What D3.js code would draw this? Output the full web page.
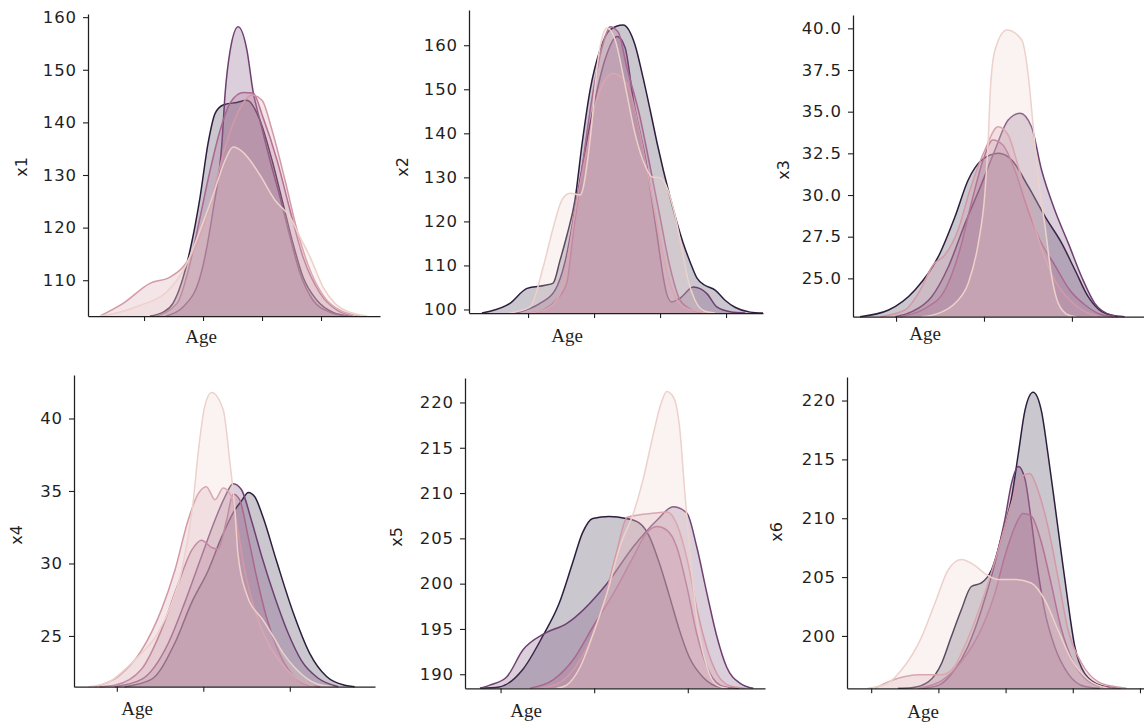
<!DOCTYPE html>
<html>
<head>
<meta charset="utf-8">
<script src="https://cdn.jsdelivr.net/npm/d3@7"></script>
<style>
  body { margin: 0; background: #fff; }
  svg { display: block; }
  .tick text { font-family: "DejaVu Sans", sans-serif; font-size: 16.5px; fill: #1f1f1f; letter-spacing: 0.9px; }
  .ylab { font-family: "DejaVu Sans", sans-serif; font-size: 16px; fill: #1f1f1f; }
  .xlab { font-family: "Liberation Serif", "Times New Roman", serif; font-size: 19px; fill: #1f1f1f; }
</style>
</head>
<body>
<svg id="chart" width="1144" height="728"></svg>
<script>
// hue levels, lightest to darkest (seaborn cubehelix)
const palette = ["#edd1cb", "#d499a7", "#aa678f", "#6e4071", "#2d1e3e"];
const xLabel = "Age";
const yLabels = ["x1", "x2", "x3", "x4", "x5", "x6"];

const xDomains = [[1, 100], [2.1, 91.2], [10.2, 76.4], [10.1, 79.7], [12.4, 76.5], [6.4, 50.6]];
const xTicks = [[20, 40, 60, 80], [20, 40, 60, 80], [20, 40, 60], [20, 40, 60], [20, 40, 60], [10, 20, 30, 40, 50]];
const yDomains = [[103.2, 160.6], [99.2, 168.0], [22.7, 40.8], [21.5, 43.0], [188.45, 222.7], [195.55, 222.0]];
const yTicks = [
  [110, 120, 130, 140, 150, 160],
  [100, 110, 120, 130, 140, 150, 160],
  [25, 27.5, 30, 32.5, 35, 37.5, 40],
  [25, 30, 35, 40],
  [190, 195, 200, 205, 210, 215, 220],
  [200, 205, 210, 215, 220]
];
const yFormats = ["d", "d", ".1f", "d", "d", "d"];

// density outlines per hue level, [age, value]
const x1Curves = [
  [[5.1,103.2],[8.5,103.5],[18.6,105.2],[27.5,107.7],[33.9,112.5],[39.0,119.5],[43.4,126.2],[47.5,132.8],[50.2,135.3],[53.6,134.3],[59.3,130.0],[64.4,125.2],[69.5,122.0],[72.9,118.2],[76.3,114.4],[80.7,108.7],[84.7,105.6],[89.8,103.9],[95.6,103.2]],
  [[5.1,103.2],[12.9,105.6],[22.0,109.4],[28.8,110.6],[33.2,112.5],[38.0,117.0],[42.4,124.3],[47.5,135.3],[51.9,142.0],[56.6,145.2],[60.0,144.2],[63.4,138.5],[67.8,129.0],[71.9,119.5],[76.3,111.9],[81.4,106.6],[86.4,104.3],[93.2,103.2]],
  [[24.0,103.2],[31.2,105.6],[35.6,113.2],[39.0,122.0],[42.4,130.9],[45.8,138.5],[49.2,143.7],[53.6,145.7],[56.9,145.6],[60.3,141.0],[65.1,132.8],[69.5,123.3],[73.9,114.4],[79.7,107.5],[85.4,104.3],[90.8,103.2]],
  [[27.5,103.2],[33.2,104.9],[39.0,110.6],[43.4,123.3],[46.4,136.0],[47.5,145.6],[49.2,153.7],[51.9,158.2],[54.9,153.7],[56.9,146.1],[59.3,140.4],[62.7,132.8],[66.1,125.8],[69.5,118.2],[72.9,111.3],[77.3,106.2],[83.1,103.9],[88.8,103.2]],
  [[22.0,103.2],[26.4,103.9],[29.8,105.6],[35.6,115.7],[39.0,125.8],[41.7,136.0],[44.1,141.7],[46.8,143.3],[51.5,143.8],[54.9,144.2],[59.3,140.4],[63.4,132.8],[67.1,124.6],[70.5,117.0],[73.9,110.6],[78.6,106.2],[84.1,103.9],[89.8,103.2]]
];

const x2Curves = [
  [[14.5,99.2],[20.6,100.6],[24.6,109.7],[27.7,118.8],[30.2,124.8],[32.7,126.4],[35.8,126.0],[38.8,138.5],[41.2,156.7],[43.9,163.9],[46.4,161.2],[49.4,151.0],[52.4,140.0],[55.5,132.6],[57.6,130.1],[60.0,129.9],[62.4,127.1],[64.5,121.5],[66.7,113.5],[68.5,106.7],[70.6,102.1],[73.6,99.6],[76.7,99.2]],
  [[20.6,99.2],[25.7,100.2],[29.7,103.6],[32.2,112.7],[34.8,124.8],[37.8,136.2],[40.8,147.6],[45.8,153.6],[49.9,151.4],[53.9,140.0],[57.0,127.9],[60.0,115.8],[63.0,105.9],[67.1,100.6],[72.1,99.5],[76.0,99.2]],
  [[20.6,99.2],[23.6,99.6],[28.2,101.9],[31.7,105.9],[33.7,117.3],[35.8,128.7],[37.8,140.0],[40.3,152.0],[43.0,161.0],[44.8,164.2],[47.3,163.0],[49.9,155.1],[53.9,143.8],[57.0,132.4],[60.0,121.0],[63.0,109.7],[66.1,102.1],[70.0,99.8],[73.6,99.2]],
  [[16.1,99.2],[23.6,101.4],[28.2,104.4],[31.2,110.8],[34.2,122.6],[37.3,136.2],[40.3,147.6],[43.3,156.7],[47.0,162.0],[49.4,159.5],[51.9,147.6],[56.0,132.4],[59.0,117.3],[62.0,103.6],[63.5,101.7],[66.1,102.6],[70.1,105.1],[74.2,103.6],[77.2,100.6],[81.2,99.5],[85.8,99.2]],
  [[6.0,99.2],[8.5,99.6],[14.5,101.4],[19.7,104.8],[25.2,105.5],[27.6,106.0],[29.7,111.2],[31.8,116.9],[34.2,124.8],[36.4,137.8],[38.8,149.8],[41.8,158.9],[44.8,163.5],[48.8,164.6],[52.4,160.1],[54.8,152.8],[57.0,145.3],[59.1,137.8],[63.0,125.6],[67.0,115.1],[69.1,110.8],[71.2,107.1],[73.6,105.5],[76.7,104.4],[79.7,102.1],[82.7,100.5],[87.3,99.4],[91.2,99.2]]
];

const x3Curves = [
  [[25.8,22.7],[29.6,22.9],[33.4,23.5],[36.4,24.7],[38.7,27.1],[40.2,30.1],[41.0,33.5],[41.4,36.1],[42.5,38.7],[45.2,39.9],[48.6,39.3],[50.1,37.1],[51.2,34.1],[52.3,31.1],[53.9,28.1],[55.4,25.1],[56.9,23.5],[59.2,22.8],[61.0,22.7]],
  [[16.4,22.7],[22.0,23.1],[25.5,24.3],[28.4,25.8],[31.1,26.4],[34.1,27.9],[36.8,30.3],[40.2,32.7],[43.2,34.1],[45.5,33.6],[47.7,31.8],[50.5,29.1],[53.2,26.7],[56.1,24.9],[59.5,23.7],[63.0,23.0],[66.4,22.7]],
  [[20.9,22.7],[26.6,23.2],[31.1,24.3],[34.5,26.7],[37.3,29.7],[39.8,32.1],[42.0,33.3],[44.3,33.0],[47.0,31.5],[50.0,29.1],[52.7,27.3],[56.1,25.8],[59.5,24.3],[63.0,23.4],[66.4,22.85],[69.8,22.7]],
  [[19.8,22.7],[23.6,23.0],[28.1,23.9],[31.9,25.7],[35.7,28.3],[39.5,30.7],[42.5,32.7],[45.5,34.5],[48.2,34.9],[50.8,34.1],[53.1,31.5],[56.1,29.1],[59.2,27.1],[62.2,25.1],[65.2,23.5],[69.0,22.8],[72.0,22.7]],
  [[11.8,22.7],[18.3,23.1],[24.3,24.3],[29.6,26.3],[33.4,28.7],[36.4,30.9],[39.5,32.1],[43.3,32.5],[46.3,32.1],[50.1,30.5],[53.9,28.7],[57.7,27.1],[60.7,25.5],[63.7,23.9],[66.8,23.0],[70.5,22.7]]
];

const x4Curves = [
  [[13.4,21.5],[18.0,21.8],[21.9,22.7],[25.7,23.8],[29.5,25.2],[32.6,27.2],[35.0,29.5],[37.6,34.1],[38.8,37.6],[40.3,40.8],[41.9,41.8],[44.6,40.6],[46.1,37.1],[47.3,33.7],[48.0,30.7],[50.0,27.9],[53.8,26.1],[56.1,25.0],[58.5,23.8],[61.5,22.7],[66.2,21.7],[70.0,21.5]],
  [[14.9,21.5],[20.3,22.2],[25.7,24.0],[30.3,26.8],[33.4,29.5],[36.5,33.0],[38.8,34.8],[40.7,35.3],[42.7,34.4],[44.6,35.2],[46.5,34.6],[48.0,32.3],[49.6,29.5],[51.9,26.8],[55.0,24.5],[58.1,23.1],[61.9,22.0],[65.8,21.5]],
  [[16.0,21.5],[19.5,21.6],[25.7,22.7],[30.3,25.4],[34.2,28.6],[37.3,30.9],[39.6,31.6],[41.9,31.1],[43.4,31.0],[45.4,33.0],[46.9,34.8],[48.4,34.4],[50.4,31.8],[52.3,29.1],[54.6,26.3],[57.3,24.0],[60.4,22.4],[64.2,21.6],[67.0,21.5]],
  [[19.5,21.5],[25.7,22.0],[31.9,24.5],[35.7,27.3],[39.6,30.5],[42.7,33.0],[45.0,34.6],[46.9,35.5],[48.8,35.1],[51.1,33.0],[53.5,30.5],[56.5,27.7],[59.6,25.2],[62.7,23.3],[66.5,22.1],[71.2,21.5]],
  [[21.8,21.5],[28.0,22.0],[33.4,24.5],[37.3,27.3],[41.1,29.5],[44.2,31.8],[47.3,33.7],[48.8,34.3],[50.4,34.9],[51.9,34.6],[53.8,33.2],[56.9,30.2],[60.8,26.6],[64.6,23.8],[68.5,22.2],[72.7,21.6],[75.0,21.5]]
];

const x5Curves = [
  [[32.0,188.45],[34.1,188.8],[37.0,190.8],[39.8,194.5],[42.7,198.9],[45.5,204.1],[48.6,208.1],[50.4,211.4],[52.5,216.2],[54.3,219.9],[55.5,221.2],[57.0,220.5],[58.3,217.0],[59.3,210.5],[60.6,202.6],[62.2,195.3],[64.1,190.8],[66.2,188.8],[68.5,188.45]],
  [[28.4,188.45],[32.7,189.1],[37.0,191.6],[40.2,194.9],[42.7,199.3],[44.9,203.7],[47.0,207.3],[49.8,207.6],[53.0,207.8],[55.6,207.9],[57.7,206.5],[59.9,202.6],[62.0,197.1],[64.2,192.7],[66.3,190.0],[69.1,188.7],[72.3,188.45]],
  [[26.3,188.45],[31.3,189.4],[35.5,191.6],[39.8,195.3],[44.1,198.9],[48.4,203.0],[51.2,205.6],[53.4,206.3],[55.5,205.9],[57.6,204.1],[59.8,199.7],[61.9,194.5],[64.1,190.8],[66.9,188.8],[69.8,188.45]],
  [[15.6,188.45],[17.7,188.8],[21.3,189.7],[24.8,192.7],[29.4,194.5],[34.1,195.6],[42.7,200.0],[48.4,204.1],[53.4,207.0],[56.9,208.5],[59.8,207.8],[61.9,204.1],[64.1,198.9],[66.2,194.2],[68.3,190.8],[71.2,189.0],[74.0,188.45]],
  [[15.6,188.45],[19.7,188.6],[24.7,190.5],[29.0,194.2],[32.5,197.8],[35.4,202.3],[37.5,205.6],[39.7,207.2],[43.2,207.4],[46.8,207.2],[49.6,206.7],[51.8,205.2],[53.9,202.3],[56.1,198.6],[58.2,194.9],[60.3,191.9],[63.2,189.7],[66.8,188.6],[71.0,188.45]]
];

const x6Curves = [
  [[9.5,195.55],[12.5,196.0],[14.5,197.1],[17.5,199.9],[19.5,202.8],[21.45,205.6],[23.4,206.5],[25.4,206.0],[26.9,205.3],[28.9,204.8],[31.4,204.8],[33.8,204.5],[35.8,203.1],[37.8,200.5],[39.8,198.0],[42.3,196.3],[45.2,195.55]],
  [[10.55,195.55],[14.0,196.4],[17.0,196.7],[20.5,196.7],[22.4,197.4],[23.4,198.5],[26.4,202.8],[28.9,207.3],[30.9,211.3],[32.35,213.5],[33.6,213.8],[34.8,212.4],[36.3,209.3],[37.8,205.0],[39.3,200.5],[41.3,197.7],[43.8,196.1],[46.2,195.7],[48.0,195.55]],
  [[17.0,195.55],[20.5,196.2],[23.4,197.8],[26.4,200.6],[28.4,203.6],[29.9,206.8],[31.4,209.3],[32.6,210.4],[33.8,210.2],[35.3,208.0],[36.8,204.4],[38.3,200.6],[39.8,198.1],[41.8,196.4],[44.2,195.7],[47.2,195.55]],
  [[17.5,195.55],[20.0,195.8],[22.4,197.1],[24.4,199.1],[26.4,202.2],[28.4,206.2],[29.9,209.9],[30.9,213.0],[31.9,214.4],[32.9,213.3],[33.8,209.9],[34.8,205.6],[35.8,202.2],[37.3,199.1],[39.3,196.8],[41.8,195.7],[44.0,195.55]],
  [[14.0,195.55],[16.0,195.6],[18.5,196.1],[20.5,197.7],[21.9,199.9],[23.4,202.2],[24.9,204.2],[26.4,204.5],[27.9,205.6],[29.4,208.4],[30.9,211.8],[31.9,215.5],[32.9,219.2],[34.1,220.7],[35.3,219.2],[36.3,215.5],[37.3,211.3],[38.3,207.0],[39.3,202.8],[40.3,199.1],[41.8,196.8],[44.2,195.8],[47.2,195.55]]
];

const allCurves = [x1Curves, x2Curves, x3Curves, x4Curves, x5Curves, x6Curves];

// pixel boxes of each subplot (left spine x, right end, top, bottom spine y)
const boxes = [
  { left: 88, right: 380, top: 14, bottom: 316 },
  { left: 469, right: 763, top: 10, bottom: 313 },
  { left: 853, right: 1144, top: 15, bottom: 316.7 },
  { left: 74, right: 375, top: 375, bottom: 686.7 },
  { left: 465, right: 765, top: 378, bottom: 688.3 },
  { left: 847, right: 1144, top: 377, bottom: 688.3 }
];
const xLabelPos = [[201, 343], [567, 342], [925, 340], [137, 715], [526, 717], [923, 718]];
const yLabelPos = [[21, 167], [402, 167], [783, 170], [16, 535], [396, 537], [776, 532]];

const svg = d3.select("#chart");

allCurves.forEach(function (curves, i) {
  const b = boxes[i];
  const x = d3.scaleLinear().domain(xDomains[i]).range([b.left, b.right]);
  const y = d3.scaleLinear().domain(yDomains[i]).range([b.bottom, b.top]);
  const g = svg.append("g").attr("class", "panel");

  const area = d3.area()
    .x(d => x(d[0]))
    .y0(y(yDomains[i][0]))
    .y1(d => y(d[1]))
    .curve(d3.curveMonotoneX);
  const line = d3.line()
    .x(d => x(d[0]))
    .y(d => y(d[1]))
    .curve(d3.curveMonotoneX);

  // seaborn draws the last hue level first
  for (let k = curves.length - 1; k >= 0; k--) {
    g.append("path").datum(curves[k])
      .attr("d", area)
      .attr("fill", palette[k])
      .attr("fill-opacity", 0.25);
    g.append("path").datum(curves[k])
      .attr("d", line)
      .attr("fill", "none")
      .attr("stroke", palette[k])
      .attr("stroke-width", 1.5);
  }

  const yAxis = g.append("g")
    .attr("transform", `translate(${b.left},0)`)
    .call(d3.axisLeft(y).tickValues(yTicks[i]).tickFormat(d3.format(yFormats[i]))
      .tickSize(5).tickSizeOuter(0).tickPadding(6));
  const xAxis = g.append("g")
    .attr("transform", `translate(0,${b.bottom})`)
    .call(d3.axisBottom(x).tickValues(xTicks[i]).tickFormat("")
      .tickSize(5).tickSizeOuter(0));
  [yAxis, xAxis].forEach(a => {
    a.attr("font-family", "DejaVu Sans");
    a.select(".domain").attr("stroke", "#1f1f1f").attr("stroke-width", 1.25);
    a.selectAll(".tick line").attr("stroke", "#1f1f1f").attr("stroke-width", 1.1);
  });

  g.append("text")
    .attr("class", "xlab")
    .attr("x", xLabelPos[i][0])
    .attr("y", xLabelPos[i][1])
    .attr("text-anchor", "middle")
    .text(xLabel);

  g.append("text")
    .attr("class", "ylab")
    .attr("font-family", "DejaVu Sans")
    .attr("transform", `translate(${yLabelPos[i][0]},${yLabelPos[i][1]}) rotate(-90)`)
    .attr("text-anchor", "middle")
    .attr("dominant-baseline", "central")
    .text(yLabels[i]);
});
</script>
</body>
</html>
